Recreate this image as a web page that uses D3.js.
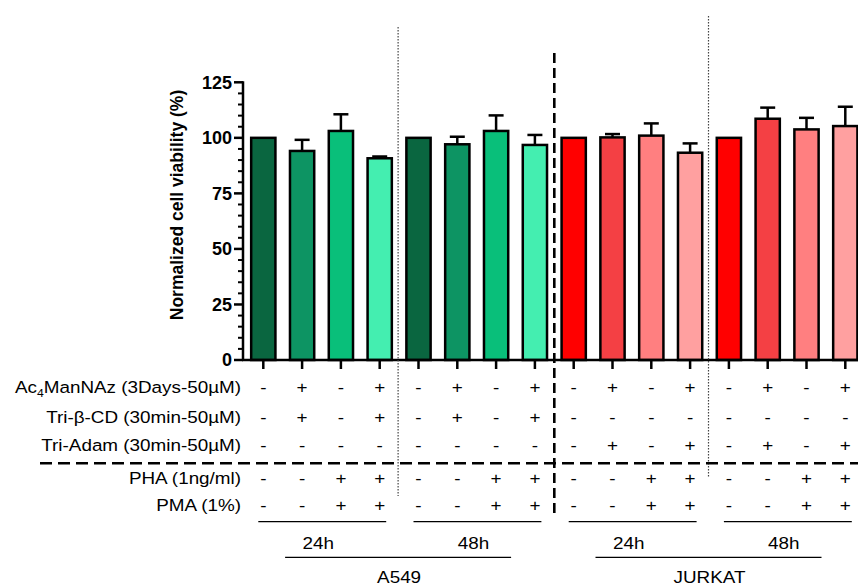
<!DOCTYPE html>
<html>
<head>
<meta charset="utf-8">
<script src="https://cdn.jsdelivr.net/npm/d3@7"></script>
<style>
  body { margin: 0; background: #fff; }
  svg { display: block; font-family: 'Liberation Sans', Arial, sans-serif; }
</style>
</head>
<body>
<svg id="chart" width="858" height="588"></svg>
<script>
// 数据
const barIds = d3.range(16)
const viability = [100, 94.1, 103.1, 90.8, 100, 97.1, 103.1, 96.8, 100, 100.2, 101, 93.3, 100, 108.6, 103.8, 105.3]
const errUpper = [0, 5, 7.5, 0.8, 0, 3.4, 7, 4.5, 0, 1.5, 5.5, 4.2, 0, 5, 5.2, 8.7]
const barColors = [
  '#0a6640', '#0d9463', '#09bf7a', '#44eeb0',
  '#0a6640', '#0d9463', '#09bf7a', '#44eeb0',
  '#ff0000', '#f44044', '#ff7f80', '#ffa0a0',
  '#ff0000', '#f44044', '#ff7f80', '#ffa0a0',
]
const yTicks = [0, 25, 50, 75, 100, 125]
const rowLabels = ['Ac4ManNAz (3Days-50µM)', 'Tri-β-CD (30min-50µM)', 'Tri-Adam (30min-50µM)', 'PHA (1ng/ml)', 'PMA (1%)']
const rowSigns = [
  '-+-+-+-+-+-+-+-+',
  '-+-+-+-+--------',
  '---------+-+-+-+',
  '--++--++--++--++',
  '--++--++--++--++',
]
const timeGroups = ['24h', '48h', '24h', '48h']
const cellLines = ['A549', 'JURKAT']

const svg = d3.select('#chart')

// 比例尺
const y = d3.scaleLinear().domain([0, 125]).range([360, 82.3])
const x = d3.scaleBand().domain(barIds).range([243.9, 243.9 + 16 * 38.8]).paddingInner(0.375).paddingOuter(0.1875)
const cx = i => x(i) + x.bandwidth() / 2
const boundary = i => x.range()[0] + i * x.step()

// 柱子
svg.append('g')
  .selectAll('rect')
  .data(barIds)
  .join('rect')
  .attr('x', d => x(d))
  .attr('y', d => y(viability[d]))
  .attr('width', x.bandwidth())
  .attr('height', d => y(0) - y(viability[d]))
  .attr('fill', d => barColors[d])
  .attr('stroke', '#000')
  .attr('stroke-width', 2.5)

// 误差线（只画上半）
const eg = svg.append('g').attr('stroke', '#000').attr('stroke-width', 2.5)
barIds.filter(d => errUpper[d] > 0).forEach(d => {
  const top = y(viability[d] + errUpper[d])
  eg.append('line').attr('x1', cx(d)).attr('x2', cx(d)).attr('y1', y(viability[d])).attr('y2', top)
  eg.append('line').attr('x1', cx(d) - 7.5).attr('x2', cx(d) + 7.5).attr('y1', top).attr('y2', top)
})

// y 轴
const yAxisG = svg.append('g').attr('transform', 'translate(243,0)')
const minor = d3.range(0, 126, 5).filter(v => v % 25 !== 0)
yAxisG.selectAll('line.minor').data(minor).join('line')
  .attr('x1', -5).attr('x2', 0).attr('y1', d => y(d)).attr('y2', d => y(d))
  .attr('stroke', '#000').attr('stroke-width', 2)
yAxisG.selectAll('line.major').data(yTicks).join('line')
  .attr('x1', -9).attr('x2', 0).attr('y1', d => y(d)).attr('y2', d => y(d))
  .attr('stroke', '#000').attr('stroke-width', 2.5)
yAxisG.append('line').attr('x1', 0).attr('x2', 0).attr('y1', y(125) - 1).attr('y2', y(0) + 1)
  .attr('stroke', '#000').attr('stroke-width', 2.5)
yAxisG.selectAll('text').data(yTicks).join('text')
  .attr('x', -11).attr('y', d => y(d)).attr('dy', '0.36em')
  .attr('text-anchor', 'end').attr('font-size', 18).attr('font-weight', 'bold')
  .text(d => d)

svg.append('text')
  .attr('transform', `translate(183,${(90 + 320) / 2}) rotate(-90)`)
  .attr('text-anchor', 'middle').attr('font-size', 17.5).attr('font-weight', 'bold')
  .text('Normalized cell viability (%)')

// x 轴基线和刻度
svg.append('line').attr('x1', 242).attr('x2', 858).attr('y1', 360).attr('y2', 360)
  .attr('stroke', '#000').attr('stroke-width', 2.5)
svg.append('g').selectAll('line').data(barIds).join('line')
  .attr('x1', d => cx(d)).attr('x2', d => cx(d)).attr('y1', 360).attr('y2', 369)
  .attr('stroke', '#000').attr('stroke-width', 2.5)

// 分隔线
svg.append('line').attr('x1', boundary(4) - 1).attr('x2', boundary(4) - 1).attr('y1', 27).attr('y2', 496)
  .attr('stroke', '#444').attr('stroke-width', 1.2).attr('stroke-dasharray', '1.5,1.5')
svg.append('line').attr('x1', boundary(12) - 1).attr('x2', boundary(12) - 1).attr('y1', 16).attr('y2', 477)
  .attr('stroke', '#444').attr('stroke-width', 1.2).attr('stroke-dasharray', '1.5,1.5')
svg.append('line').attr('x1', boundary(8)).attr('x2', boundary(8)).attr('y1', 53).attr('y2', 516)
  .attr('stroke', '#000').attr('stroke-width', 2.6).attr('stroke-dasharray', '10,5')
svg.append('line').attr('x1', 40).attr('x2', 858).attr('y1', 463.3).attr('y2', 463.3)
  .attr('stroke', '#000').attr('stroke-width', 2.6).attr('stroke-dasharray', '12,6')

// 条件表
const rowY = [386.7, 416.7, 445, 478.3, 505]
const sx = 1.11
rowLabels.forEach((lab, r) => {
  const t = svg.append('text')
    .attr('transform', `translate(241,${rowY[r]}) scale(${sx},1)`)
    .attr('dy', '0.36em').attr('text-anchor', 'end').attr('font-size', 17)
  if (r === 0) {
    t.append('tspan').text('Ac')
    t.append('tspan').attr('font-size', 11).attr('dy', 4).text('4')
    t.append('tspan').attr('dy', -4).text('ManNAz (3Days-50µM)')
  } else {
    t.text(lab)
  }
  svg.append('g').selectAll('text').data(barIds).join('text')
    .attr('transform', d => `translate(${cx(d)},${rowY[r]}) scale(${sx},1)`)
    .attr('dy', '0.36em').attr('text-anchor', 'middle').attr('font-size', 17)
    .text(d => rowSigns[r][d])
})

// 时间分组
timeGroups.forEach((lab, g) => {
  const a = cx(g * 4) - 5
  const b = cx(g * 4 + 3) + 6.5
  svg.append('line').attr('x1', a).attr('x2', b).attr('y1', 521.7).attr('y2', 521.7)
    .attr('stroke', '#000').attr('stroke-width', 1.2)
  svg.append('text')
    .attr('transform', `translate(${(a + b) / 2 - 4},543) scale(${sx},1)`)
    .attr('dy', '0.36em').attr('text-anchor', 'middle').attr('font-size', 17)
    .text(lab)
})

// 细胞系
cellLines.forEach((lab, c) => {
  const mid = (cx(c * 8) + cx(c * 8 + 7)) / 2
  svg.append('line').attr('x1', mid - 114).attr('x2', mid + 112).attr('y1', 557.3).attr('y2', 557.3)
    .attr('stroke', '#000').attr('stroke-width', 1.2)
  svg.append('text')
    .attr('transform', `translate(${mid},577) scale(${sx},1)`)
    .attr('dy', '0.36em').attr('text-anchor', 'middle').attr('font-size', 17)
    .text(lab)
})
</script>
</body>
</html>
